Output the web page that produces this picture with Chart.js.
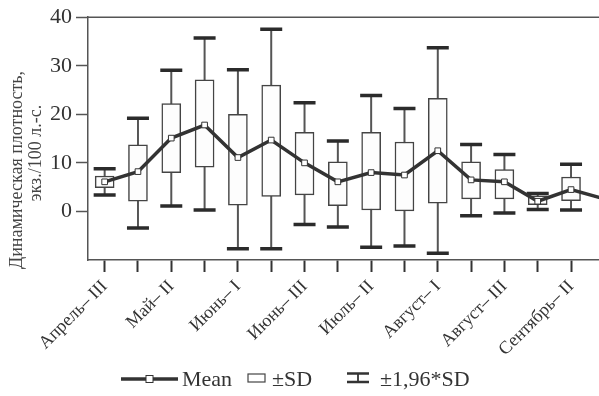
<!DOCTYPE html>
<html>
<head>
<meta charset="utf-8">
<script src="https://cdn.jsdelivr.net/npm/chart.js@4.4.0/dist/chart.umd.min.js"></script>
<style>
  html, body { margin: 0; padding: 0; background: #fff; overflow: hidden; }
  #wrap { width: 640px; height: 396px; }
</style>
</head>
<body>
<div id="wrap"><canvas id="densityChart" width="640" height="396"></canvas></div>
<script>
// density by ten-day periods
const categories = ["Апрель– III", "Май– I", "Май– II", "Май– III", "Июнь– I", "Июнь– II", "Июнь– III",
  "Июль– I", "Июль– II", "Июль– III", "Август– I", "Август– II", "Август– III",
  "Сентябрь– I", "Сентябрь– II", "Сентябрь– III"];
const meanValues = [6.1, 8.2, 15.1, 17.8, 11.1, 14.7, 10.0, 6.1, 8.0, 7.5, 12.5, 6.5, 6.1, 2.1, 4.5, 2.6];
const sdLow = [4.9, 2.1, 8.0, 9.1, 1.3, 3.1, 3.4, 1.2, 0.3, 0.0, 1.7, 2.6, 2.6, 1.4, 2.2, null];
const sdHigh = [7.3, 13.7, 22.2, 27.1, 20.0, 26.0, 16.3, 10.2, 16.3, 14.3, 23.3, 10.2, 8.6, 3.2, 7.1, null];
const ciLow = [3.4, -3.4, 1.1, 0.3, -7.7, -7.7, -2.7, -3.2, -7.4, -7.1, -8.6, -0.9, -0.3, 0.4, 0.3, null];
const ciHigh = [8.8, 19.2, 29.1, 35.7, 29.2, 37.5, 22.4, 14.5, 23.9, 21.2, 33.7, 13.8, 11.7, 3.7, 9.7, null];
const yTicks = [0, 10, 20, 30, 40];
const yTitle = ["Динамическая плотность,", "экз./100 л.-с."];
const legendLabels = ["Mean", "±SD", "±1,96*SD"];

const serif = "'Liberation Serif', 'Times New Roman', serif";
const ink = "#333";

// whiskers go under the boxes
const whiskerPlugin = {
  id: "whiskers",
  beforeDatasetsDraw(chart) {
    const { ctx, scales: { x, y } } = chart;
    ctx.save();
    for (let i = 0; i < categories.length; i++) {
      if (ciLow[i] == null) continue;
      const px = x.getPixelForValue(i);
      const top = y.getPixelForValue(ciHigh[i]);
      const bot = y.getPixelForValue(ciLow[i]);
      ctx.strokeStyle = "#555";
      ctx.lineWidth = 2;
      ctx.beginPath();
      ctx.moveTo(px, top);
      ctx.lineTo(px, bot);
      ctx.stroke();
      ctx.strokeStyle = "#2b2b2b";
      ctx.lineWidth = 3.5;
      ctx.beginPath();
      ctx.moveTo(px - 11, top);
      ctx.lineTo(px + 11, top);
      ctx.moveTo(px - 11, bot);
      ctx.lineTo(px + 11, bot);
      ctx.stroke();
    }
    ctx.restore();
  }
};

// top frame, axis title and legend
const decorPlugin = {
  id: "decor",
  afterDraw(chart) {
    const { ctx, chartArea } = chart;
    ctx.save();
    ctx.strokeStyle = "#555";
    ctx.lineWidth = 1.5;
    ctx.beginPath();
    ctx.moveTo(chartArea.left, chartArea.top);
    ctx.lineTo(chart.width, chartArea.top);
    ctx.stroke();

    ctx.fillStyle = "#444";
    ctx.font = "18px " + serif;
    ctx.textAlign = "center";
    ctx.textBaseline = "middle";
    ctx.save();
    ctx.translate(17, 170);
    ctx.rotate(-Math.PI / 2);
    ctx.fillText(yTitle[0], 0, 0);
    ctx.restore();
    ctx.save();
    ctx.translate(36, 153);
    ctx.rotate(-Math.PI / 2);
    ctx.fillText(yTitle[1], 0, 0);
    ctx.restore();

    // legend
    const ly = 379;
    ctx.strokeStyle = ink;
    ctx.lineWidth = 3.5;
    ctx.beginPath();
    ctx.moveTo(121, ly);
    ctx.lineTo(178, ly);
    ctx.stroke();
    ctx.fillStyle = "#fff";
    ctx.lineWidth = 1;
    ctx.fillRect(146, ly - 3.5, 7, 7);
    ctx.strokeRect(146, ly - 3.5, 7, 7);

    ctx.strokeStyle = "#444";
    ctx.lineWidth = 1.2;
    ctx.strokeRect(248, 374, 17, 8);

    ctx.strokeStyle = ink;
    ctx.lineWidth = 2.5;
    ctx.beginPath();
    ctx.moveTo(347, 373.5);
    ctx.lineTo(369, 373.5);
    ctx.moveTo(347, 382);
    ctx.lineTo(369, 382);
    ctx.stroke();
    ctx.lineWidth = 1.8;
    ctx.beginPath();
    ctx.moveTo(358, 373.5);
    ctx.lineTo(358, 382);
    ctx.stroke();

    ctx.fillStyle = ink;
    ctx.font = "22px " + serif;
    ctx.textAlign = "left";
    ctx.textBaseline = "alphabetic";
    ctx.fillText(legendLabels[0], 182, 386);
    ctx.fillText(legendLabels[1], 272, 386);
    ctx.fillText(legendLabels[2], 380, 386);
    ctx.restore();
  }
};

const ctx = document.getElementById("densityChart").getContext("2d");

const densityChart = new Chart(ctx, {
  data: {
    labels: categories,
    datasets: [
      {
        type: "line",
        label: "Mean",
        data: meanValues,
        borderColor: ink,
        borderWidth: 3.5,
        pointStyle: "rect",
        pointRadius: 4,
        pointBackgroundColor: "#fff",
        pointBorderColor: ink,
        pointBorderWidth: 1,
        tension: 0,
        order: 0,
      },
      {
        type: "bar",
        label: "±SD",
        data: sdLow.map((v, i) => (v == null ? null : [v, sdHigh[i]])),
        backgroundColor: "#fdfdfd",
        borderColor: "#444",
        borderWidth: 1.5,
        borderSkipped: false,
        barThickness: 19,
        order: 1,
      },
    ],
  },
  options: {
    responsive: false,
    animation: false,
    layout: { padding: { top: 16, right: 19, left: 0, bottom: 0 } },
    plugins: { legend: { display: false }, tooltip: { enabled: false } },
    scales: {
      x: {
        type: "category",
        offset: true,
        grid: {
          offset: false,
          drawOnChartArea: false,
          drawTicks: true,
          tickLength: 12,
          tickWidth: 2,
          tickColor: ink,
        },
        border: { display: true, color: "#555", width: 1.5 },
        ticks: {
          autoSkip: false,
          maxRotation: 45,
          minRotation: 45,
          padding: 4,
          color: ink,
          font: { family: serif, size: 18 },
          callback: (v, i) => (i % 2 === 0 ? categories[i] : ""),
        },
        afterFit: (scale) => { scale.height = 136; },
      },
      y: {
        min: -10,
        max: 40,
        grid: {
          drawOnChartArea: false,
          drawTicks: true,
          tickLength: 12,
          tickWidth: 1.5,
          tickColor: (c) => (yTicks.includes(c.tick.value) ? "#555" : "rgba(0,0,0,0)"),
        },
        border: { display: true, color: "#555", width: 1.5 },
        ticks: {
          stepSize: 10,
          padding: 4,
          color: ink,
          font: { family: serif, size: 22 },
          callback: (v) => (yTicks.includes(v) ? v : ""),
        },
        afterFit: (scale) => { scale.width = 88; },
      },
    },
  },
  plugins: [whiskerPlugin, decorPlugin],
});
</script>
</body>
</html>
